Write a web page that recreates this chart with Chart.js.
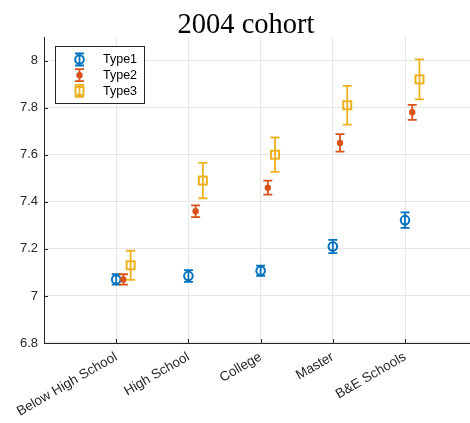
<!DOCTYPE html>
<html lang="en">
<head>
    <meta charset="UTF-8">
    <title>2004 cohort</title>
    <script src="https://cdn.jsdelivr.net/npm/chart.js@4.4.0/dist/chart.umd.min.js"></script>
    <style>
        body { margin: 0; background: #fff; }
        #wrap { width: 470px; height: 423px; position: relative; }
    </style>
</head>
<body>
    <div id="wrap"><canvas id="cohortChart"></canvas></div>
    <script>
        // data
        var categories = ['Below High School', 'High School', 'College', 'Master', 'B&E Schools'];
        var type1 = [7.07, 7.085, 7.107, 7.21, 7.322];
        var type1Err = [0.022, 0.025, 0.022, 0.028, 0.033];
        var type2 = [7.07, 7.36, 7.46, 7.65, 7.78];
        var type2Err = [0.022, 0.025, 0.03, 0.037, 0.032];
        var type3 = [7.13, 7.49, 7.60, 7.81, 7.92];
        var type3Err = [0.062, 0.075, 0.073, 0.082, 0.085];
        var seriesNames = ['Type1', 'Type2', 'Type3'];
        var seriesOffsets = [0, 0.1, 0.2];
        var colors = ['#0072BD', '#D95319', '#EDB120'];

        var values = [type1, type2, type3];
        var errs = [type1Err, type2Err, type3Err];
        var axisColor = '#262626';

        function points(k) {
            return values[k].map(function (v, i) {
                return { x: i + 1 + seriesOffsets[k], y: v, err: errs[k][i] };
            });
        }

        // marker drawing shared by the chart and the legend
        function drawMarker(ctx, k, x, y) {
            ctx.save();
            ctx.strokeStyle = colors[k];
            ctx.fillStyle = colors[k];
            ctx.lineWidth = 2;
            if (k === 0) {
                ctx.beginPath(); ctx.arc(x, y, 4.3, 0, Math.PI * 2); ctx.stroke();
            } else if (k === 1) {
                ctx.beginPath(); ctx.arc(x, y, 3.2, 0, Math.PI * 2); ctx.fill();
            } else {
                ctx.strokeRect(x - 4, y - 4, 8, 8);
            }
            ctx.restore();
        }

        function drawBar(ctx, color, x, yTop, yBot) {
            ctx.save();
            ctx.strokeStyle = color;
            ctx.lineWidth = 1.8;
            ctx.beginPath();
            ctx.moveTo(x, yTop); ctx.lineTo(x, yBot);
            ctx.moveTo(x - 4.5, yTop); ctx.lineTo(x + 4.5, yTop);
            ctx.moveTo(x - 4.5, yBot); ctx.lineTo(x + 4.5, yBot);
            ctx.stroke();
            ctx.restore();
        }

        var errorBars = {
            id: 'errorBars',
            afterDatasetsDraw: function (chart) {
                var ctx = chart.ctx, xs = chart.scales.x, ys = chart.scales.y;
                chart.data.datasets.forEach(function (ds, k) {
                    ds.data.forEach(function (p) {
                        var px = xs.getPixelForValue(p.x);
                        drawBar(ctx, colors[k], px, ys.getPixelForValue(p.y + p.err), ys.getPixelForValue(p.y - p.err));
                        drawMarker(ctx, k, px, ys.getPixelForValue(p.y));
                    });
                });
            }
        };

        var frame = {
            id: 'frame',
            afterDraw: function (chart) {
                var ctx = chart.ctx, a = chart.chartArea, xs = chart.scales.x, ys = chart.scales.y;
                ctx.save();
                // inward tick marks
                ctx.strokeStyle = axisColor;
                ctx.lineWidth = 1;
                ctx.beginPath();
                xs.ticks.forEach(function (t) {
                    var px = Math.round(xs.getPixelForValue(t.value)) + 0.5;
                    ctx.moveTo(px, a.bottom); ctx.lineTo(px, a.bottom - 4);
                });
                ys.ticks.forEach(function (t) {
                    var py = Math.round(ys.getPixelForValue(t.value)) + 0.5;
                    ctx.moveTo(a.left, py); ctx.lineTo(a.left + 4, py);
                });
                ctx.stroke();

                // title
                ctx.fillStyle = '#000';
                ctx.font = '28.5px "Liberation Serif", "Times New Roman", serif';
                ctx.textAlign = 'center';
                ctx.textBaseline = 'alphabetic';
                ctx.fillText('2004 cohort', 246, 33);

                // legend
                var lx = 55.5, ly = 46.5, lw = 89, lh = 57;
                ctx.fillStyle = '#fff';
                ctx.fillRect(lx, ly, lw, lh);
                ctx.strokeStyle = axisColor;
                ctx.lineWidth = 1;
                ctx.strokeRect(lx, ly, lw, lh);
                ctx.font = '12.5px "Liberation Sans", Arial, sans-serif';
                ctx.textAlign = 'left';
                ctx.textBaseline = 'middle';
                seriesNames.forEach(function (name, k) {
                    var ry = 59.5 + k * 15.7;
                    drawBar(ctx, colors[k], 79.5, ry - 6, ry + 6);
                    drawMarker(ctx, k, 79.5, ry);
                    ctx.fillStyle = '#000';
                    ctx.fillText(name, 103, ry + 0.5);
                });
                ctx.restore();
            }
        };

        var datasets = seriesNames.map(function (name, k) {
            return {
                label: name,
                data: points(k),
                showLine: false,
                pointRadius: 0,
                borderColor: colors[k],
                backgroundColor: colors[k]
            };
        });

        new Chart(document.getElementById('cohortChart'), {
            type: 'scatter',
            data: { datasets: datasets },
            options: {
                responsive: true,
                maintainAspectRatio: false,
                animation: false,
                layout: { padding: { top: 37, left: 0, right: 0, bottom: 0 } },
                plugins: {
                    legend: { display: false },
                    tooltip: { enabled: false },
                    title: { display: false }
                },
                scales: {
                    x: {
                        type: 'linear',
                        min: 0,
                        max: 5.9,
                        afterBuildTicks: function (scale) {
                            scale.ticks = categories.map(function (c, i) { return { value: i + 1 }; });
                        },
                        afterFit: function (scale) { scale.height = 80; },
                        grid: { color: '#e6e6e6', drawTicks: false },
                        border: { color: axisColor, width: 1 },
                        ticks: {
                            autoSkip: false,
                            minRotation: 30,
                            maxRotation: 30,
                            padding: 6,
                            color: axisColor,
                            font: { family: '"Liberation Sans", Arial, sans-serif', size: 13.5 },
                            callback: function (v) { return categories[v - 1]; }
                        }
                    },
                    y: {
                        min: 6.8,
                        max: 8.1,
                        afterFit: function (scale) { scale.width = 44; },
                        grid: { color: '#e6e6e6', drawTicks: false },
                        border: { color: axisColor, width: 1 },
                        ticks: {
                            stepSize: 0.2,
                            includeBounds: false,
                            padding: 6,
                            color: axisColor,
                            font: { family: '"Liberation Sans", Arial, sans-serif', size: 13 },
                            callback: function (v) { return String(+v.toFixed(1)); }
                        }
                    }
                }
            },
            plugins: [errorBars, frame]
        });
    </script>
</body>
</html>
